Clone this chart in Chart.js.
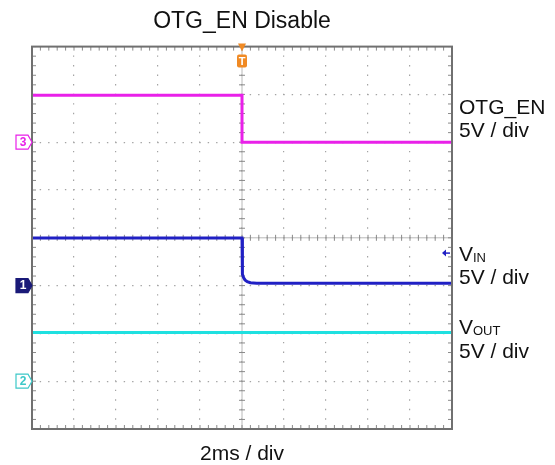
<!DOCTYPE html>
<html>
<head>
<meta charset="utf-8">
<script src="https://cdn.jsdelivr.net/npm/chart.js@4/dist/chart.umd.min.js"></script>
<style>
  html, body { margin: 0; padding: 0; background: #fff; }
  #wrap { width: 555px; height: 465px; position: relative; }
</style>
</head>
<body>
<div id="wrap"><canvas id="c" width="555" height="465"></canvas></div>
<script>
// ---- data (time in ms, voltage in V) ----
const otgTime  = [-10, 0, 0, 10];
const otgVolt  = [4.9, 4.9, 0, 0];
const vinTime  = [-10, 0, 0.02, 0.07, 0.14, 0.25, 0.4, 0.7, 10];
const vinVolt  = [4.97, 4.97, 1.2, 0.85, 0.6, 0.42, 0.3, 0.25, 0.24];
const voutTime = [-10, 10];
const voutVolt = [5.1, 5.1];
const vinTriggerLevel = 3.4;
const channelNames = ['OTG_EN', 'V', 'V'];
const channelSubs  = ['', 'IN', 'OUT'];
const scaleLabel = '5V / div';
const timeLabel = '2ms / div';
const titleText = 'OTG_EN Disable';

const FONT = "'Liberation Sans', Arial, Helvetica, sans-serif";
const COL_OTG = '#e920e9';
const COL_VIN = '#2020c4';
const COL_VOUT = '#1fe0e0';

function pts(t, v) { return t.map((x, i) => ({ x: x, y: v[i] })); }

const decor = {
  id: 'decor',
  beforeDatasetsDraw(chart) {
    const { ctx, chartArea: a, scales } = chart;
    const xs = scales.x, ys = scales.y1;
    const cx = xs.getPixelForValue(0);
    const cy = ys.getPixelForValue(5);
    ctx.save();
    ctx.strokeStyle = '#b8b8b8';
    ctx.lineWidth = 1;
    ctx.beginPath();
    ctx.moveTo(a.left, cy); ctx.lineTo(a.right, cy);
    ctx.moveTo(cx, a.top); ctx.lineTo(cx, a.bottom);
    ctx.stroke();
    ctx.strokeStyle = '#8a8a8a';
    ctx.beginPath();
    for (let i = 0; i <= 50; i++) {
      const x = xs.getPixelForValue(-10 + i * 0.4);
      ctx.moveTo(x, cy - 3); ctx.lineTo(x, cy + 3);
      ctx.moveTo(x, a.top); ctx.lineTo(x, a.top + 4);
      ctx.moveTo(x, a.bottom); ctx.lineTo(x, a.bottom - 4);
    }
    for (let j = 0; j <= 40; j++) {
      const y = ys.getPixelForValue(-15 + j);
      ctx.moveTo(cx - 3, y); ctx.lineTo(cx + 3, y);
      ctx.moveTo(a.left, y); ctx.lineTo(a.left + 4, y);
      ctx.moveTo(a.right, y); ctx.lineTo(a.right - 4, y);
    }
    ctx.stroke();
    ctx.restore();
  },
  afterDraw(chart) {
    const { ctx, chartArea: a, scales } = chart;
    const xs = scales.x;
    ctx.save();
    // frame
    ctx.strokeStyle = '#707070';
    ctx.lineWidth = 2;
    ctx.strokeRect(a.left, a.top, a.right - a.left, a.bottom - a.top);

    // channel markers
    const markers = [
      { axis: 'y3', label: '3', stroke: COL_OTG, fill: '#fff', text: COL_OTG },
      { axis: 'y1', label: '1', stroke: '#1a1a78', fill: '#1a1a78', text: '#fff' },
      { axis: 'y2', label: '2', stroke: '#3cc8c8', fill: '#fff', text: '#3cc8c8' }
    ];
    markers.forEach(m => {
      const y = scales[m.axis].getPixelForValue(0);
      const x0 = a.left - 16, x1 = a.left - 4, x2 = a.left;
      ctx.beginPath();
      ctx.moveTo(x0, y - 7); ctx.lineTo(x1, y - 7); ctx.lineTo(x2, y);
      ctx.lineTo(x1, y + 7); ctx.lineTo(x0, y + 7); ctx.closePath();
      ctx.fillStyle = m.fill; ctx.fill();
      ctx.lineWidth = 1.2; ctx.strokeStyle = m.stroke; ctx.stroke();
      ctx.fillStyle = m.text;
      ctx.font = 'bold 12px ' + FONT;
      ctx.textAlign = 'center'; ctx.textBaseline = 'middle';
      ctx.fillText(m.label, x0 + 7, y + 0.5);
    });

    // trigger marker
    const tx = xs.getPixelForValue(0);
    ctx.fillStyle = '#f08a24';
    ctx.beginPath();
    ctx.moveTo(tx - 4, a.top - 3); ctx.lineTo(tx + 4, a.top - 3); ctx.lineTo(tx, a.top + 5);
    ctx.closePath(); ctx.fill();
    ctx.beginPath();
    if (ctx.roundRect) ctx.roundRect(tx - 5, a.top + 8, 10, 13, 2); else ctx.rect(tx - 5, a.top + 8, 10, 13);
    ctx.fill();
    ctx.fillStyle = '#fff';
    ctx.font = 'bold 11px ' + FONT;
    ctx.textAlign = 'center'; ctx.textBaseline = 'middle';
    ctx.fillText('T', tx, a.top + 15);

    // VIN trigger level arrow
    const ay = scales.y1.getPixelForValue(vinTriggerLevel);
    ctx.strokeStyle = COL_VIN; ctx.fillStyle = COL_VIN; ctx.lineWidth = 1.5;
    ctx.beginPath(); ctx.moveTo(a.right - 2, ay); ctx.lineTo(a.right - 7, ay); ctx.stroke();
    ctx.beginPath(); ctx.moveTo(a.right - 10, ay); ctx.lineTo(a.right - 6, ay - 3.5); ctx.lineTo(a.right - 6, ay + 3.5);
    ctx.closePath(); ctx.fill();

    // right labels
    const lx = a.right + 7;
    ctx.fillStyle = '#111';
    ctx.textAlign = 'left'; ctx.textBaseline = 'alphabetic';
    const baseY = [114, 261, 334];
    const base2 = [137, 284, 358];
    channelNames.forEach((n, i) => {
      ctx.font = '21px ' + FONT;
      ctx.fillText(n, lx, baseY[i]);
      if (channelSubs[i]) {
        const w = ctx.measureText(n).width;
        ctx.font = '13px ' + FONT;
        ctx.fillText(channelSubs[i], lx + w, baseY[i] + 1);
      }
      ctx.font = '21px ' + FONT;
      ctx.fillText(scaleLabel, lx, base2[i]);
    });
    ctx.restore();
  }
};

new Chart(document.getElementById('c'), {
  type: 'line',
  data: {
    datasets: [
      { label: 'OTG_EN', data: pts(otgTime, otgVolt), yAxisID: 'y3', borderColor: COL_OTG },
      { label: 'VIN', data: pts(vinTime, vinVolt), yAxisID: 'y1', borderColor: COL_VIN },
      { label: 'VOUT', data: pts(voutTime, voutVolt), yAxisID: 'y2', borderColor: COL_VOUT }
    ]
  },
  options: {
    responsive: false,
    animation: false,
    devicePixelRatio: 1,
    layout: { padding: { left: 32, right: 103, top: 0, bottom: 0 } },
    elements: { point: { radius: 0 }, line: { borderWidth: 3, tension: 0 } },
    plugins: {
      legend: { display: false },
      tooltip: { enabled: false },
      title: {
        display: true, text: titleText, color: '#111',
        font: { family: FONT, size: 23, weight: 'normal', lineHeight: 1.2 },
        padding: { top: 8, bottom: 11 }
      }
    },
    scales: {
      x: {
        type: 'linear', min: -10, max: 10,
        ticks: { display: false, stepSize: 2 },
        grid: { color: '#a4a4a4', lineWidth: 1.2, drawTicks: false },
        border: { display: false, dash: [1.4, 8.15], dashOffset: 0.7 },
        title: {
          display: true, text: timeLabel, color: '#111',
          font: { family: FONT, size: 21, weight: 'normal', lineHeight: 1.0 },
          padding: { top: 14.5, bottom: 0.5 }
        }
      },
      y1: {
        type: 'linear', min: -15, max: 25, position: 'left',
        ticks: { display: false, stepSize: 5 },
        grid: { color: '#a4a4a4', lineWidth: 1.2, drawTicks: false },
        border: { display: false, dash: [1.4, 7.0], dashOffset: 0.7 }
      },
      y2: { type: 'linear', min: -5, max: 35, display: false },
      y3: { type: 'linear', min: -30, max: 10, display: false }
    }
  },
  plugins: [decor]
});
</script>
</body>
</html>
